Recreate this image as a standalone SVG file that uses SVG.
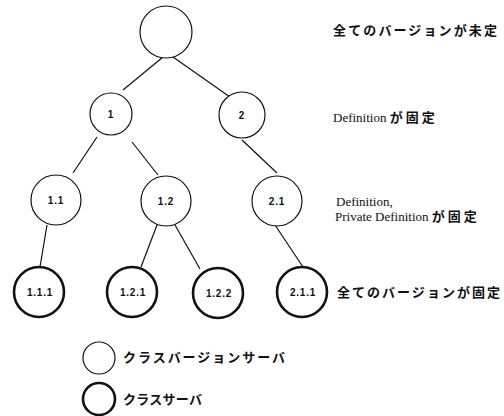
<svg xmlns="http://www.w3.org/2000/svg" width="504" height="416" viewBox="0 0 504 416">
<style>
.n{fill:#fff;stroke:#111;stroke-width:1.2}
.b{fill:#fff;stroke:#111;stroke-width:2.6}
.e{stroke:#111;stroke-width:1.2;fill:none}
.l{font-family:"Liberation Sans",Arial,sans-serif;font-size:10px;font-weight:bold;fill:#111;text-anchor:middle;letter-spacing:0.8px}
.j{font-family:"Liberation Serif","Noto Sans CJK JP",serif;font-size:13px;fill:#111}
.k{font-weight:bold}
</style>
<rect width="504" height="416" fill="#fff"/>
<g id="connectors">
<line class="e" x1="163" y1="57" x2="123" y2="90"/>
<line class="e" x1="173" y1="57" x2="230" y2="97"/>
<line class="e" x1="97" y1="137" x2="73" y2="173"/>
<line class="e" x1="132" y1="142" x2="158" y2="175"/>
<line class="e" x1="242" y1="140" x2="277" y2="173"/>
<line class="e" x1="47" y1="225" x2="40" y2="267"/>
<line class="e" x1="157" y1="225" x2="141" y2="267"/>
<line class="e" x1="175" y1="225" x2="200" y2="269"/>
<line class="e" x1="275" y1="225" x2="303" y2="267"/>
</g>
<g id="root"><circle class="n" cx="166" cy="32" r="26"/></g>
<g id="n1"><circle class="n" cx="111" cy="114" r="21"/><text class="l" x="111" y="118">1</text></g>
<g id="n2"><circle class="n" cx="242" cy="115" r="23"/><text class="l" x="242" y="119">2</text></g>
<g id="n1_1"><circle class="n" cx="56" cy="200" r="25"/><text class="l" x="56" y="204">1.1</text></g>
<g id="n1_2"><circle class="n" cx="166" cy="201" r="25"/><text class="l" x="166" y="205">1.2</text></g>
<g id="n2_1"><circle class="n" cx="277" cy="201" r="25"/><text class="l" x="277" y="205">2.1</text></g>
<g id="n1_1_1"><circle class="b" cx="39" cy="292" r="25"/><text class="l" x="40" y="296">1.1.1</text></g>
<g id="n1_2_1"><circle class="b" cx="132" cy="292" r="25"/><text class="l" x="133" y="296">1.2.1</text></g>
<g id="n1_2_2"><circle class="b" cx="218" cy="293" r="25"/><text class="l" x="219" y="297">1.2.2</text></g>
<g id="n2_1_1"><circle class="b" cx="302" cy="292" r="25"/><text class="l" x="303" y="296">2.1.1</text></g>
<g id="labels">
<text class="j k" x="333" y="35" textLength="164" lengthAdjust="spacing">全てのバージョンが未定</text>
<text class="j" x="333" y="122">Definition <tspan class="k" letter-spacing="3">が固定</tspan></text>
<text class="j" x="336" y="206">Definition,</text>
<text class="j" x="335" y="221">Private Definition <tspan class="k" letter-spacing="3">が固定</tspan></text>
<text class="j k" x="337" y="297" textLength="163" lengthAdjust="spacing">全てのバージョンが固定</text>
</g>
<g id="legend_version"><circle class="n" cx="99" cy="358" r="16"/><text class="j k" x="123" y="362" font-size="12" textLength="162" lengthAdjust="spacing">クラスバージョンサーバ</text></g>
<g id="legend_class"><circle class="b" cx="99" cy="399" r="16"/><text class="j k" x="123" y="404" font-size="12" textLength="79" lengthAdjust="spacing">クラスサーバ</text></g>
</svg>
